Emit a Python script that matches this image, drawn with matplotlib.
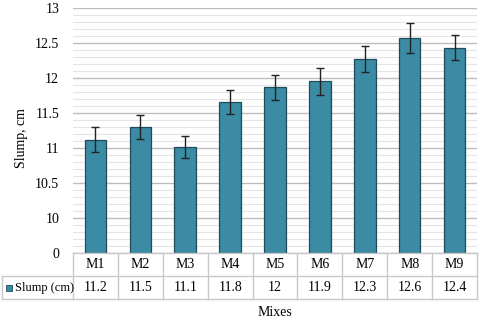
import numpy as np
import matplotlib.pyplot as plt
from matplotlib.lines import Line2D
from matplotlib.patches import Rectangle

mixes = ["M1", "M2", "M3", "M4", "M5", "M6", "M7", "M8", "M9"]
slump = [11.12, 11.30, 11.01, 11.66, 11.87, 11.95, 12.27, 12.57, 12.43]
slump_err = [0.18, 0.165, 0.16, 0.17, 0.18, 0.19, 0.19, 0.21, 0.18]
table_values = ["11.2", "11.5", "11.1", "11.8", "12", "11.9", "12.3", "12.6", "12.4"]
ytick_vals = [9.5, 10, 10.5, 11, 11.5, 12, 12.5, 13]
ytick_labels = ["0", "10", "10.5", "11", "11.5", "12", "12.5", "13"]

plt.rcParams['font.family'] = ['Liberation Serif', 'DejaVu Serif']
fs = 9.5

W, H = 480, 320
fig = plt.figure(figsize=(W / 100, H / 100), dpi=100)

# plot area in pixels
left, right, top, bottom = 73, 477, 8, 253
ax = fig.add_axes([left / W, 1 - bottom / H, (right - left) / W, (bottom - top) / H])

x = np.arange(len(mixes))
ax.bar(x, np.array(slump) - 9.5, bottom=9.5, width=0.48, color="#3b8ba5",
       edgecolor="#1f4b5a", linewidth=0.9, zorder=3)
ax.errorbar(x, slump, yerr=slump_err, fmt="none", ecolor="#222222",
            elinewidth=1.0, capsize=3, capthick=1.0, zorder=4)

ax.set_xlim(-0.5, len(mixes) - 0.5)
ax.set_ylim(9.5, 13)
ax.set_yticks(ytick_vals)
ax.set_yticklabels(ytick_labels, fontsize=fs + 0.5)
ax.set_yticks(np.arange(9.6, 13.0, 0.1), minor=True)
ax.set_xticks([])
ax.tick_params(axis="y", which="both", length=0, pad=10)
ax.grid(axis="y", which="major", color="#bdbdbd", linewidth=1.0, zorder=0)
ax.grid(axis="y", which="minor", color="#e4e4e4", linewidth=0.8, zorder=0)
for s in ax.spines.values():
    s.set_visible(False)

ax.set_ylabel("Slump, cm", fontsize=fs + 0.5)
ax.yaxis.set_label_coords(-0.112, 0.47)


# data table below the plot
def fp(px, py):
    return (px / W, 1 - py / H)


grid_col = "#c8c8c8"
col_w = (right - left) / len(mixes)
r0, r1, r2 = 253, 276, 299
for ya in (r0, r1, r2):
    xa = left if ya == r0 else 2
    (x0, y0), (x1, y1) = fp(xa, ya), fp(right, ya)
    fig.add_artist(Line2D([x0, x1], [y0, y1], color=grid_col, lw=1.0))
for i in range(len(mixes) + 1):
    xa = left + i * col_w
    (x0, y0), (x1, y1) = fp(xa, r0), fp(xa, r2)
    fig.add_artist(Line2D([x0, x1], [y0, y1], color=grid_col, lw=1.0))
(x0, y0), (x1, y1) = fp(2, r1), fp(2, r2)
fig.add_artist(Line2D([x0, x1], [y0, y1], color=grid_col, lw=1.0))

for i, (m, v) in enumerate(zip(mixes, table_values)):
    cx = left + (i + 0.5) * col_w
    fig.text(*fp(cx, (r0 + r1) / 2), m, ha="center", va="center", fontsize=fs + 0.5)
    fig.text(*fp(cx, (r1 + r2) / 2), v, ha="center", va="center", fontsize=fs + 0.5)

sx, sy = fp(6, 291)
fig.add_artist(Rectangle((sx, sy), 6 / W, 6 / H, facecolor="#3b8ba5",
                         edgecolor="#1f4b5a", lw=0.6, transform=fig.transFigure))
fig.text(*fp(15, (r1 + r2) / 2), "Slump (cm)", ha="left", va="center", fontsize=fs - 0.5)

fig.text(*fp((left + right) / 2, 312), "Mixes", ha="center", va="center", fontsize=fs + 0.5)

fig.savefig("out.png", dpi=100)
